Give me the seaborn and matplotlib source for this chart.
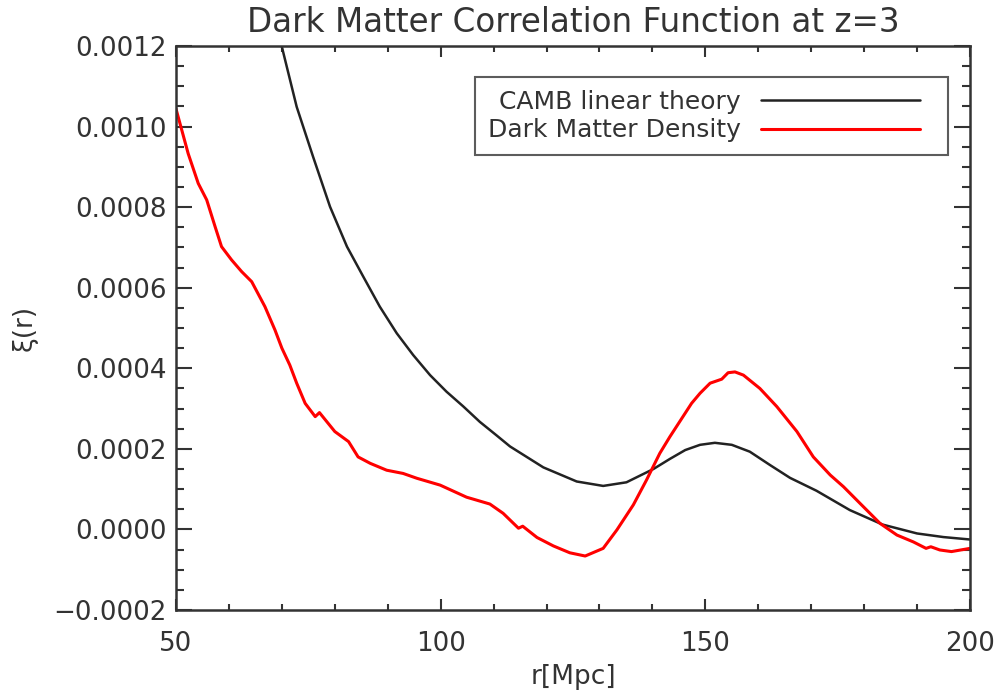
import numpy as np
import pandas as pd
import matplotlib
matplotlib.use("Agg")
import matplotlib.pyplot as plt
import seaborn as sns
from matplotlib.ticker import MultipleLocator, FuncFormatter

# ---- data, xi in units of 1e-4 ----
camb_r = [69.5, 70.0, 72.8, 75.9, 79.1, 82.3, 85.4, 88.5, 91.7, 94.8,
          98.0, 101.1, 104.3, 107.4, 110.6, 113.1, 119.4, 125.7, 130.7,
          135.1, 140.2, 143.3, 146.2, 149.0, 151.8, 155.0, 158.4, 162.2,
          166.0, 171.0, 177.3, 183.5, 190.0, 195.0, 200.0]
camb_xi = [12.3, 11.98, 10.49, 9.25, 8.01, 7.02, 6.27, 5.53, 4.87, 4.33,
           3.83, 3.42, 3.05, 2.67, 2.33, 2.06, 1.54, 1.19, 1.08,
           1.17, 1.50, 1.75, 1.97, 2.10, 2.15, 2.10, 1.93, 1.60,
           1.28, 0.96, 0.48, 0.12, -0.10, -0.19, -0.25]

dm_r = [50.0, 52.3, 54.2, 55.8, 57.4, 58.6, 60.5, 62.4, 64.3, 66.8, 68.7, 70.0,
        71.5, 72.8, 74.4, 76.3, 77.1, 80.0, 82.6, 84.4, 86.7, 89.8, 92.9, 95.5,
        99.9, 104.9, 106.2, 109.3, 111.8, 114.7, 115.5, 118.2, 121.3, 124.4,
        127.3, 130.7, 133.3, 136.4, 138.9, 141.4, 143.3, 147.4, 149.0, 150.9,
        153.1, 154.3, 155.6, 157.2, 160.3, 163.5, 167.3, 170.4, 173.6, 176.1,
        179.2, 183.0, 186.2, 189.3, 191.7, 192.6, 194.3, 196.5, 200.0]
dm_xi = [10.44, 9.33, 8.59, 8.18, 7.51, 7.02, 6.69, 6.40, 6.15, 5.53, 4.95, 4.50,
         4.08, 3.63, 3.13, 2.80, 2.90, 2.43, 2.18, 1.80, 1.64, 1.47, 1.39, 1.27,
         1.10, 0.80, 0.75, 0.63, 0.40, 0.03, 0.08, -0.20, -0.41, -0.58,
         -0.66, -0.47, -0.01, 0.61, 1.23, 1.89, 2.30, 3.13, 3.38, 3.63,
         3.73, 3.89, 3.91, 3.83, 3.50, 3.05, 2.43, 1.80, 1.35, 1.06,
         0.65, 0.15, -0.14, -0.31, -0.47, -0.43, -0.51, -0.55, -0.47]

labels = ["CAMB linear theory", "Dark Matter Density"]
title = "Dark Matter Correlation Function at z=3"
xlabel = "r[Mpc]"
ylabel = "\u03be(r)"

df = pd.concat([
    pd.DataFrame({"r": camb_r, "xi": np.array(camb_xi) * 1e-4, "series": labels[0]}),
    pd.DataFrame({"r": dm_r, "xi": np.array(dm_xi) * 1e-4, "series": labels[1]}),
], ignore_index=True)

sns.set_theme(style="white")
plt.rcParams["font.family"] = ["DejaVu Sans"]
ink = "#333333"

fig = plt.figure(figsize=(9.99, 6.94), dpi=100)
ax = fig.add_axes([176 / 999, 1 - 610 / 694, 794 / 999, 564 / 694])

sns.lineplot(data=df, x="r", y="xi", hue="series", hue_order=labels,
             palette={labels[0]: "#222222", labels[1]: "#ff0000"},
             ax=ax, linewidth=1.8, sort=False, estimator=None)
for ln, lw in zip(ax.get_lines()[:2], [1.8, 2.2]):
    ln.set_linewidth(lw)
    ln.set_solid_joinstyle("round")

ax.set_xlim(50, 200)
ax.set_ylim(-0.0002, 0.0012)
ax.xaxis.set_major_locator(MultipleLocator(50))
ax.xaxis.set_minor_locator(MultipleLocator(10))
ax.yaxis.set_major_locator(MultipleLocator(0.0002))
ax.yaxis.set_minor_locator(MultipleLocator(0.00005))

def yfmt(v, pos):
    if abs(v) < 1e-12:
        v = 0.0
    return f"{v:.4f}".replace("-", "\u2212")
ax.yaxis.set_major_formatter(FuncFormatter(yfmt))

ax.tick_params(axis="both", which="both", direction="in",
               top=True, right=True, bottom=True, left=True,
               colors=ink, width=1.5, labelsize=18.8)
ax.tick_params(axis="x", which="major", length=8, pad=15)
ax.tick_params(axis="x", which="minor", length=4)
ax.tick_params(axis="y", which="major", length=11.5, pad=7)
ax.tick_params(axis="y", which="minor", length=5.8)
for sp in ax.spines.values():
    sp.set_color(ink)
    sp.set_linewidth(1.8)

ax.set_title(title, fontsize=23.5, color=ink, pad=10)
ax.set_xlabel(xlabel, fontsize=19, color=ink, labelpad=5)
ax.set_ylabel(ylabel, fontsize=19, color=ink, labelpad=11)

leg = ax.legend(loc="upper right", bbox_to_anchor=(948 / 999, 1 - 77 / 694),
                bbox_transform=fig.transFigure, borderaxespad=0,
                markerfirst=False, fontsize=18, handlelength=7.0,
                handletextpad=0.8, borderpad=0.5, labelspacing=0.2,
                fancybox=False, frameon=True, title=None)
leg.get_frame().set_edgecolor(ink)
leg.get_frame().set_linewidth(1.5)
for t in leg.get_texts():
    t.set_color(ink)
for h, lw in zip(leg.get_lines(), [1.8, 2.2]):
    h.set_linewidth(lw)
    xd = np.asarray(h.get_xdata(), dtype=float)
    yd = np.asarray(h.get_ydata(), dtype=float)
    h.set_data(np.linspace(xd.min(), xd.max() - 11, len(yd)), yd)

fig.savefig("out.png", dpi=100, facecolor="white")
